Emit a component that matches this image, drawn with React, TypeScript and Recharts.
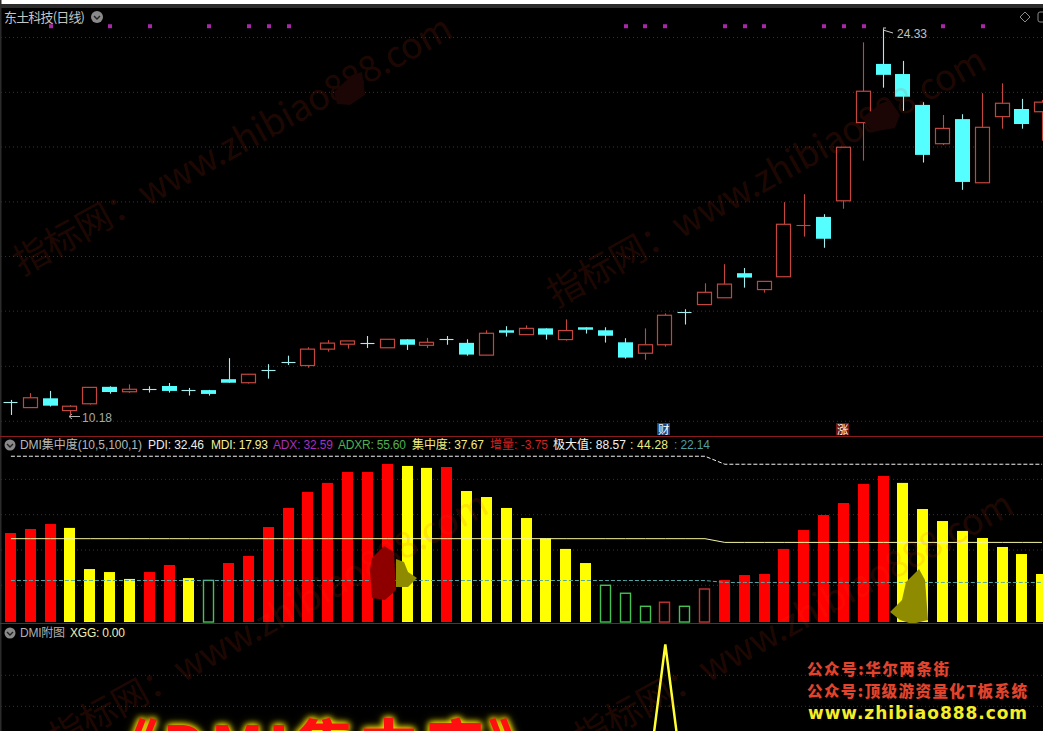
import { Bar, CartesianGrid, ComposedChart, Line, XAxis, YAxis } from 'recharts';

// candles
const opens = [10.64, 10.45, 10.79, 10.34, 10.59, 11.21, 11.03, 11.14, 11.24, 11.10, 11.09, 11.49, 11.36, 11.84, 12.12, 11.99, 12.59, 12.77, 12.82, 12.64, 12.95, 12.73, 12.95, 12.82, 12.37, 13.28, 13.12, 13.35, 12.94, 13.39, 13.28, 12.84, 12.44, 12.75, 13.96, 14.22, 14.47, 15.37, 14.77, 15.24, 17.11, 17.43, 18.02, 20.88, 23.03, 22.66, 21.53, 20.11, 21.01, 18.68, 21.10, 21.38, 21.28];
const closes = [10.62, 10.81, 10.52, 10.50, 11.19, 11.02, 11.12, 11.12, 11.06, 11.08, 10.95, 11.36, 11.67, 11.82, 12.10, 12.59, 12.81, 12.89, 12.80, 12.95, 12.75, 12.84, 12.93, 12.39, 13.17, 13.19, 13.35, 13.12, 13.27, 13.30, 13.08, 12.28, 12.75, 13.83, 13.94, 14.67, 14.97, 15.21, 15.07, 17.16, 17.13, 16.63, 19.98, 22.03, 22.63, 21.83, 19.70, 20.67, 18.71, 20.71, 21.59, 20.83, 21.63];
const highs = [10.73, 10.98, 11.06, 10.54, 11.19, 11.23, 11.30, 11.23, 11.35, 11.17, 11.10, 12.26, 11.67, 12.04, 12.35, 12.66, 12.92, 12.89, 13.07, 12.95, 12.95, 13.00, 13.07, 12.95, 13.28, 13.43, 13.46, 13.35, 13.68, 13.39, 13.39, 12.99, 13.35, 13.90, 14.05, 15.00, 15.70, 15.56, 15.07, 17.97, 18.26, 17.53, 19.98, 23.82, 24.33, 23.14, 21.63, 21.16, 21.19, 21.96, 22.32, 21.75, 21.71];
const lows = [10.18, 10.45, 10.49, 10.18, 10.56, 10.96, 10.99, 11.00, 11.00, 10.89, 10.89, 11.36, 11.33, 11.51, 12.01, 11.91, 12.50, 12.61, 12.63, 12.64, 12.56, 12.63, 12.75, 12.35, 12.37, 13.05, 13.12, 12.94, 12.90, 13.16, 12.83, 12.24, 12.20, 12.68, 13.49, 14.22, 14.47, 14.84, 14.66, 15.24, 16.71, 16.30, 17.73, 19.49, 22.16, 21.31, 19.42, 20.06, 18.42, 18.68, 20.66, 20.66, 20.22];
const signalDays = [2, 5, 7, 10, 12, 13, 14, 31, 32, 33, 36, 37, 38, 41, 42, 43, 47, 49];
const SIGNAL_PRICE = 24.41;
const priceGrid = [24.0, 21.99, 19.99, 17.98, 15.98, 13.98, 11.96, 9.95];

// DMI concentration bars; r = red, y = yellow, g = hollow green, h = hollow red
const dmiValues = [49.6, 51.9, 54.7, 52.5, 29.2, 27.5, 23.6, 27.5, 31.5, 24.1, 22.8, 32.6, 36.6, 53.0, 63.8, 72.9, 78.0, 84.2, 84.2, 88.7, 87.6, 86.5, 87.0, 73.4, 70.0, 63.8, 58.1, 46.6, 40.6, 32.6, 20.0, 15.5, 8.1, 10.4, 8.1, 17.9, 23.0, 25.8, 26.4, 40.6, 51.3, 59.8, 66.6, 77.4, 81.9, 78.0, 63.2, 56.4, 50.8, 46.8, 41.7, 37.7, 26.4];
const dmiKinds = 'rrryyyyrrygrrrrrrrrryyryyyyyyyggghghrrrrrrrrryyyyyyyy';
const maxLevels = [93.1, 88.57];
const halfLevels = [46.4, 44.3];
const quarterLevels = [22.7, 21.6];
const LEVEL_SWITCH_DAY = 36;
const dmiGrid = [80, 60, 40, 20];
const BAR_FLOOR = -0.8;

// XGG signal pane
const xggSpikeDay = 33;
const xggGrid = [0.8, 0.6];

const days = opens.map((_, i) => i);

const priceData = days.map((i) => ({
  day: i,
  open: opens[i],
  close: closes[i],
  high: highs[i],
  low: lows[i],
  signal: signalDays.includes(i) ? SIGNAL_PRICE : null,
}));

const dmiData = days.map((i) => ({
  day: i,
  value: dmiValues[i],
  kind: dmiKinds[i],
  max: i < LEVEL_SWITCH_DAY ? maxLevels[0] : maxLevels[1],
  half: i < LEVEL_SWITCH_DAY ? halfLevels[0] : halfLevels[1],
  quarter: i < LEVEL_SWITCH_DAY ? quarterLevels[0] : quarterLevels[1],
}));

const xggData = days.map((i) => ({ day: i, xgg: i === xggSpikeDay ? 1 : 0 }));

const RED = '#c4473f';
const CYAN = '#55ffff';
const CYAN_WICK = '#a5eeee';
const GRID = '#642020';
const CJK = '"Noto Sans CJK SC", "Liberation Sans", sans-serif';
const LATIN = '"Liberation Sans", "Noto Sans CJK SC", sans-serif';
const CHART_W = 1051;
const MARGIN = { top: 0, right: 0, bottom: 0, left: 0 };

function Candle(props: any) {
  const { x, y, width, height, payload } = props;
  const { open, close, high, low } = payload;
  const top = Math.min(y, y + height);
  const h = Math.abs(height);
  const toY = (v: number) => top + ((high - v) / (high - low)) * h;
  const cx = Math.round(x + width / 2) + 0.5;
  const left = Math.round(x) + 0.5;
  const w = Math.round(width) - 1;
  const yOpen = toY(open);
  const yClose = toY(close);
  const bodyTop = Math.min(yOpen, yClose);
  const bodyH = Math.abs(yOpen - yClose);
  const up = close >= open;
  const doji = Math.abs(open - close) < 0.05;
  const wick = up ? RED : CYAN_WICK;
  return (
    <g>
      <line x1={cx} x2={cx} y1={top} y2={top + h} stroke={wick} strokeWidth={1.1} />
      {doji ? (
        <line x1={left} x2={left + w} y1={Math.round(bodyTop) + 0.5} y2={Math.round(bodyTop) + 0.5} stroke={wick} strokeWidth={1.1} />
      ) : up ? (
        <rect x={left} y={bodyTop} width={w} height={bodyH} fill="#000" stroke={RED} strokeWidth={1.2} />
      ) : (
        <rect x={left - 0.5} y={bodyTop} width={w + 1} height={bodyH} fill={CYAN} />
      )}
    </g>
  );
}

function DmiBar(props: any) {
  const { x, y, width, height, payload } = props;
  const left = Math.round(x);
  const w = Math.round(width);
  const top = Math.min(y, y + height);
  const h = Math.abs(height);
  if (payload.kind === 'g' || payload.kind === 'h') {
    const c = payload.kind === 'g' ? '#45c253' : '#c23434';
    return <rect x={left + 0.5} y={top} width={w - 1} height={h} fill="#000" stroke={c} strokeWidth={1.4} />;
  }
  return <rect x={left} y={top} width={w} height={h} fill={payload.kind === 'r' ? '#ff0000' : '#ffff00'} />;
}

function SignalDot(props: any) {
  const { cx, cy, value, index } = props;
  if (value == null) return <g key={index} />;
  return <rect key={index} x={Math.round(cx) - 2} y={cy - 2} width={4} height={4} fill="#a828a8" />;
}

function PriceChart() {
  return (
    <ComposedChart width={CHART_W} height={436} data={priceData} margin={MARGIN}>
      <CartesianGrid vertical={false} horizontalValues={priceGrid} stroke={GRID} strokeDasharray="1 3" />
      <XAxis dataKey="day" hide scale="band" />
      <YAxis hide type="number" domain={[9.41, 25.37]} allowDataOverflow />
      <Bar
        dataKey={(d: any) => [d.low, d.high]}
        barSize={15}
        shape={<Candle />}
        isAnimationActive={false}
      />
      <Line dataKey="signal" stroke="none" dot={<SignalDot />} activeDot={false} isAnimationActive={false} />
    </ComposedChart>
  );
}

function DmiChart() {
  return (
    <ComposedChart width={CHART_W} height={186} data={dmiData} margin={MARGIN}>
      <CartesianGrid vertical={false} horizontalValues={dmiGrid} stroke={GRID} strokeDasharray="1 3" />
      <XAxis dataKey="day" hide scale="band" />
      <YAxis hide type="number" domain={[-1.36, 104]} allowDataOverflow />
      <Bar
        dataKey={(d: any) => [BAR_FLOOR, d.value]}
        barSize={11}
        shape={<DmiBar />}
        isAnimationActive={false}
      />
      <Line dataKey="max" stroke="#f2f2f2" strokeDasharray="4 2" strokeWidth={1} dot={false} isAnimationActive={false} />
      <Line dataKey="half" stroke="#f5f5a0" strokeWidth={1} dot={false} isAnimationActive={false} />
      <Line dataKey="quarter" stroke="#55a8a8" strokeDasharray="4 2" strokeWidth={1} dot={false} isAnimationActive={false} />
    </ComposedChart>
  );
}

function XggChart() {
  return (
    <ComposedChart width={CHART_W} height={180} data={xggData} margin={MARGIN}>
      <CartesianGrid vertical={false} horizontalValues={xggGrid} stroke={GRID} strokeDasharray="1 3" />
      <XAxis dataKey="day" hide scale="band" />
      <YAxis hide type="number" domain={[-0.03, 1.131]} allowDataOverflow />
      <Line dataKey="xgg" type="linear" stroke="#ffff33" strokeWidth={2.5} dot={false} isAnimationActive={false} />
    </ComposedChart>
  );
}

const pane = (top: number, height: number): React.CSSProperties => ({
  position: 'absolute',
  left: 1,
  top,
  width: CHART_W,
  height,
});

function Chevron({ x, y, r }: { x: number; y: number; r: number }) {
  return (
    <g>
      <circle cx={x} cy={y} r={r} fill="#8a8a8a" />
      <path d={`M${x - 3} ${y - 1} L${x} ${y + 2} L${x + 3} ${y - 1}`} stroke="#222" strokeWidth={1.4} fill="none" />
    </g>
  );
}

const titleParts = [
  { text: 'DMI集中度(10,5,100,1)', x: 20, w: 122, color: '#b8b8b8' },
  { text: 'PDI: 32.46', x: 148, w: 56, color: '#ececec' },
  { text: 'MDI: 17.93', x: 211, w: 57, color: '#f0f0a0' },
  { text: 'ADX: 32.59', x: 273, w: 60, color: '#a52fc0' },
  { text: 'ADXR: 55.60', x: 338, w: 68, color: '#4fb04f' },
  { text: '集中度: 37.67', x: 412, w: 72, color: '#f0ec80' },
  { text: '增量: -3.75', x: 490, w: 58, color: '#d42020' },
  { text: '极大值: 88.57', x: 553, w: 73, color: '#f2f2f2' },
  { text: ': 44.28', x: 630, w: 38, color: '#f0ec80' },
  { text: ': 22.14', x: 674, w: 36, color: '#4f9fa0' },
];

const watermarks = [
  { x: 22, y: 276 },
  { x: 556, y: 308 },
  { x: 58, y: 752 },
  { x: 583, y: 752 },
];

function Overlay() {
  return (
    <svg width={1043} height={731} style={{ position: 'absolute', left: 0, top: 0 }}>
      {/* site watermark */}
      {watermarks.map((m, i) => (
        <text
          key={i}
          x={m.x}
          y={m.y}
          transform={`rotate(-29 ${m.x} ${m.y})`}
          fontFamily={CJK}
          fontSize={36}
          textLength={495}
          lengthAdjust="spacing"
          fill="rgba(235,60,20,0.15)"
        >
          指标网：www.zhibiao888.com
        </text>
      ))}
      <path d="M334 92 L352 75 L362 72 L365 95 L350 105 L337 104Z" fill="#1c0505" />
      <path d="M862 118 L880 104 L890 100 L900 115 L895 128 L872 132Z" fill="#1c0505" />
      <path d="M372 558 L384 546 L394 552 L396 590 L385 600 L372 598 L370 570Z" fill="#8e0000" />
      <path d="M396 559 L404 562 L408 572 L417 578 L408 587 L396 587Z" fill="#8e8b00" />
      <path d="M890 612 L902 600 L906 582 L919 569 L925 580 L928 620 L912 624 L900 620Z" fill="#8e8b00" />

      {/* frame and dividers */}
      <rect x={0} y={0} width={1043} height={4} fill="#fff" />
      <rect x={0} y={4} width={1043} height={4} fill="#2b2b2b" />
      <rect x={0} y={0} width={1.5} height={731} fill="#2b2b2b" />
      <rect x={0} y={436} width={1043} height={1} fill="#8b1c1c" />
      <rect x={0} y={623} width={1043} height={1} fill="#8b1c1c" />

      {/* pane titles */}
      <text x={4} y={22} fontFamily={CJK} fontSize={13} fill="#c4c4c4" textLength={81}>东土科技(日线)</text>
      <Chevron x={97} y={17} r={6} />
      <Chevron x={10} y={445} r={5.5} />
      {titleParts.map((p) => (
        <text key={p.x} x={p.x} y={449} fontFamily={LATIN} fontSize={12} fill={p.color} textLength={p.w}>{p.text}</text>
      ))}
      <Chevron x={10} y={633} r={5.5} />
      <text x={20} y={637} fontFamily={LATIN} fontSize={12} fill="#b0b0b0" textLength={45}>DMI附图</text>
      <text x={70} y={637} fontFamily={LATIN} fontSize={12} fill="#f0f0b0" textLength={55}>XGG: 0.00</text>

      {/* high and low notes */}
      <path d="M69 416.5 H80 M69 416.5 L72 414 M69 416.5 L72 419" stroke="#b0b0b0" fill="none" />
      <text x={82} y={422} fontFamily={LATIN} fontSize={12} fill="#a8a8a8" textLength={30}>10.18</text>
      <path d="M883 28 H886 M883 30 L893 33" stroke="#c8c8c8" fill="none" />
      <text x={897} y={38} fontFamily={LATIN} fontSize={12} fill="#c0c0c0" textLength={30}>24.33</text>

      {/* news badges */}
      <rect x={657} y={423} width={13} height={12} fill="#1c4a80" />
      <text x={658} y={433.5} fontFamily={CJK} fontSize={11.5} fill="#fff">财</text>
      <rect x={836} y={423} width={13} height={12} fill="#6e1414" />
      <text x={837} y={433.5} fontFamily={CJK} fontSize={11.5} fill="#fff">涨</text>

      {/* corner tools */}
      <path d="M1025 12 L1030 17 L1025 22 L1020 17Z" stroke="#8a8a8a" fill="none" />
      <rect x={1038} y={12} width={8} height={10} rx={2} stroke="#8a8a8a" fill="none" />

      {/* promo text */}
      <text x={807} y={675} fontFamily={CJK} fontWeight={900} fontSize={15.5} fill="#e2432c" textLength={142}>公众号:华尔两条街</text>
      <text x={807} y={697} fontFamily={CJK} fontWeight={900} fontSize={15.5} fill="#e2432c" textLength={220}>公众号:顶级游资量化T板系统</text>
      <text x={808} y={719} fontFamily='"DejaVu Sans", sans-serif' fontWeight={700} fontSize={17} fill="#f4ee28" textLength={219}>www.zhibiao888.com</text>
      <text
        x={98}
        y={770}
        fontFamily={CJK}
        fontWeight={900}
        fontSize={60}
        fill="#ff1010"
        textLength={450}
        style={{ filter: 'drop-shadow(0 0 3px #ffe000) drop-shadow(0 0 3px #c8c000)' }}
      >
        《DMI集中度》
      </text>
    </svg>
  );
}

export default function App() {
  return (
    <div style={{ position: 'absolute', left: 0, top: 0, width: 1043, height: 731, background: '#000', overflow: 'hidden' }}>
      <div style={pane(0, 436)}><PriceChart /></div>
      <div style={pane(437, 186)}><DmiChart /></div>
      <div style={pane(624, 180)}><XggChart /></div>
      <Overlay />
    </div>
  );
}
